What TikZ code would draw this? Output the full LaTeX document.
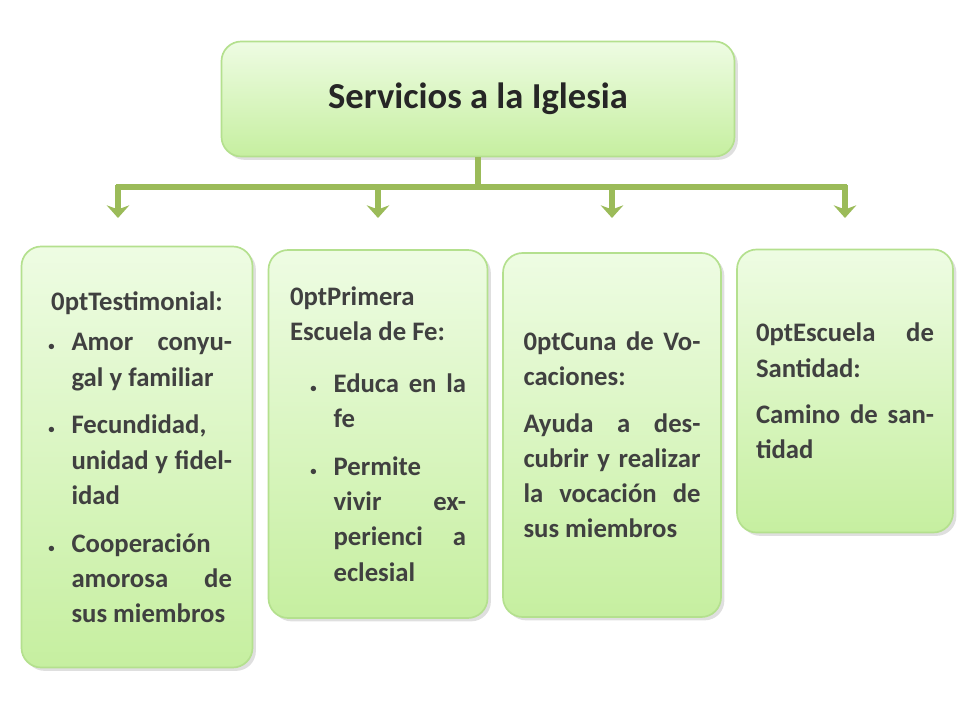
\documentclass[tikz,border=0pt]{standalone}
\usepackage{fontspec}
\setmainfont{Carlito}
\usepackage{enumitem}
\usetikzlibrary{positioning,shadows,arrows.meta}
\definecolor{boxtop}{HTML}{EEFCE3}
\definecolor{boxbot}{HTML}{C6EFA0}
\definecolor{boxline}{HTML}{B4E08E}
\definecolor{linkgreen}{HTML}{9BBB59}
\tikzset{
  card/.style={draw=boxline, line width=1.2pt, rounded corners=14pt,
    top color=boxtop, bottom color=boxbot, drop shadow={opacity=0.25},
    font=\fontsize{19}{25}\selectfont\bfseries\hyphenpenalty=10000\exhyphenpenalty=10000,
    text=black!75, align=justify, inner sep=0pt},
  link/.style={linkgreen, line width=4pt},
  tip/.style={linkgreen, line width=4pt, -{Stealth[length=9pt,width=16pt]}}
}
\newlist{cardlist}{itemize}{1}
\setlist[cardlist]{label={\small\textbullet}, leftmargin=21pt, labelsep=12pt, itemsep=5pt, topsep=2pt}
\begin{document}
\begin{tikzpicture}[x=0.025cm,y=-0.025cm]
\useasboundingbox (0,0) rectangle (960,720);
% cabecera
\node[card, minimum width=513*0.025cm, minimum height=115*0.025cm,
  font=\fontsize{26}{30}\selectfont\bfseries, text=black!85] (top) at (478,99) {Servicios a la Iglesia};
% cajas
\node[card, minimum width=231*0.025cm, minimum height=421*0.025cm, text width=190*0.025cm] (b1) at (137,457)
  {\centering Testimonial:\par
   \begin{cardlist}
   \item Amor conyugal y familiar
   \item Fecundidad, unidad y fidelidad
   \item Cooperación amorosa de sus miembros
   \end{cardlist}};
\node[card, minimum width=219*0.025cm, minimum height=368*0.025cm, text width=176*0.025cm] (b2) at (378,434)
  {Primera\par Escuela de Fe:\par\vspace{8pt}
   \begin{cardlist}[leftmargin=31pt]
   \item Educa en la fe
   \item Permite vivir experienci a eclesial
   \end{cardlist}};
\node[card, minimum width=218*0.025cm, minimum height=364*0.025cm, text width=177*0.025cm] (b3) at (612,435)
  {Cuna de Vocaciones:\par\vspace{8pt}
   Ayuda a descubrir y realizar la vocación de sus miembros};
\node[card, minimum width=216*0.025cm, minimum height=283*0.025cm, text width=178*0.025cm] (b4) at (845,391)
  {Escuela de Santidad:\par\vspace{8pt}
   Camino de santidad};
% conectores
\coordinate (hub) at (478,187);
\draw[link] (top.south) -- (hub);
\draw[link] (116,187) -- (847,187);
\foreach \b/\x in {b1/118, b2/378, b3/612, b4/845}
  \draw[tip] (\x,185) -- (\x,218);
\end{tikzpicture}
\end{document}
